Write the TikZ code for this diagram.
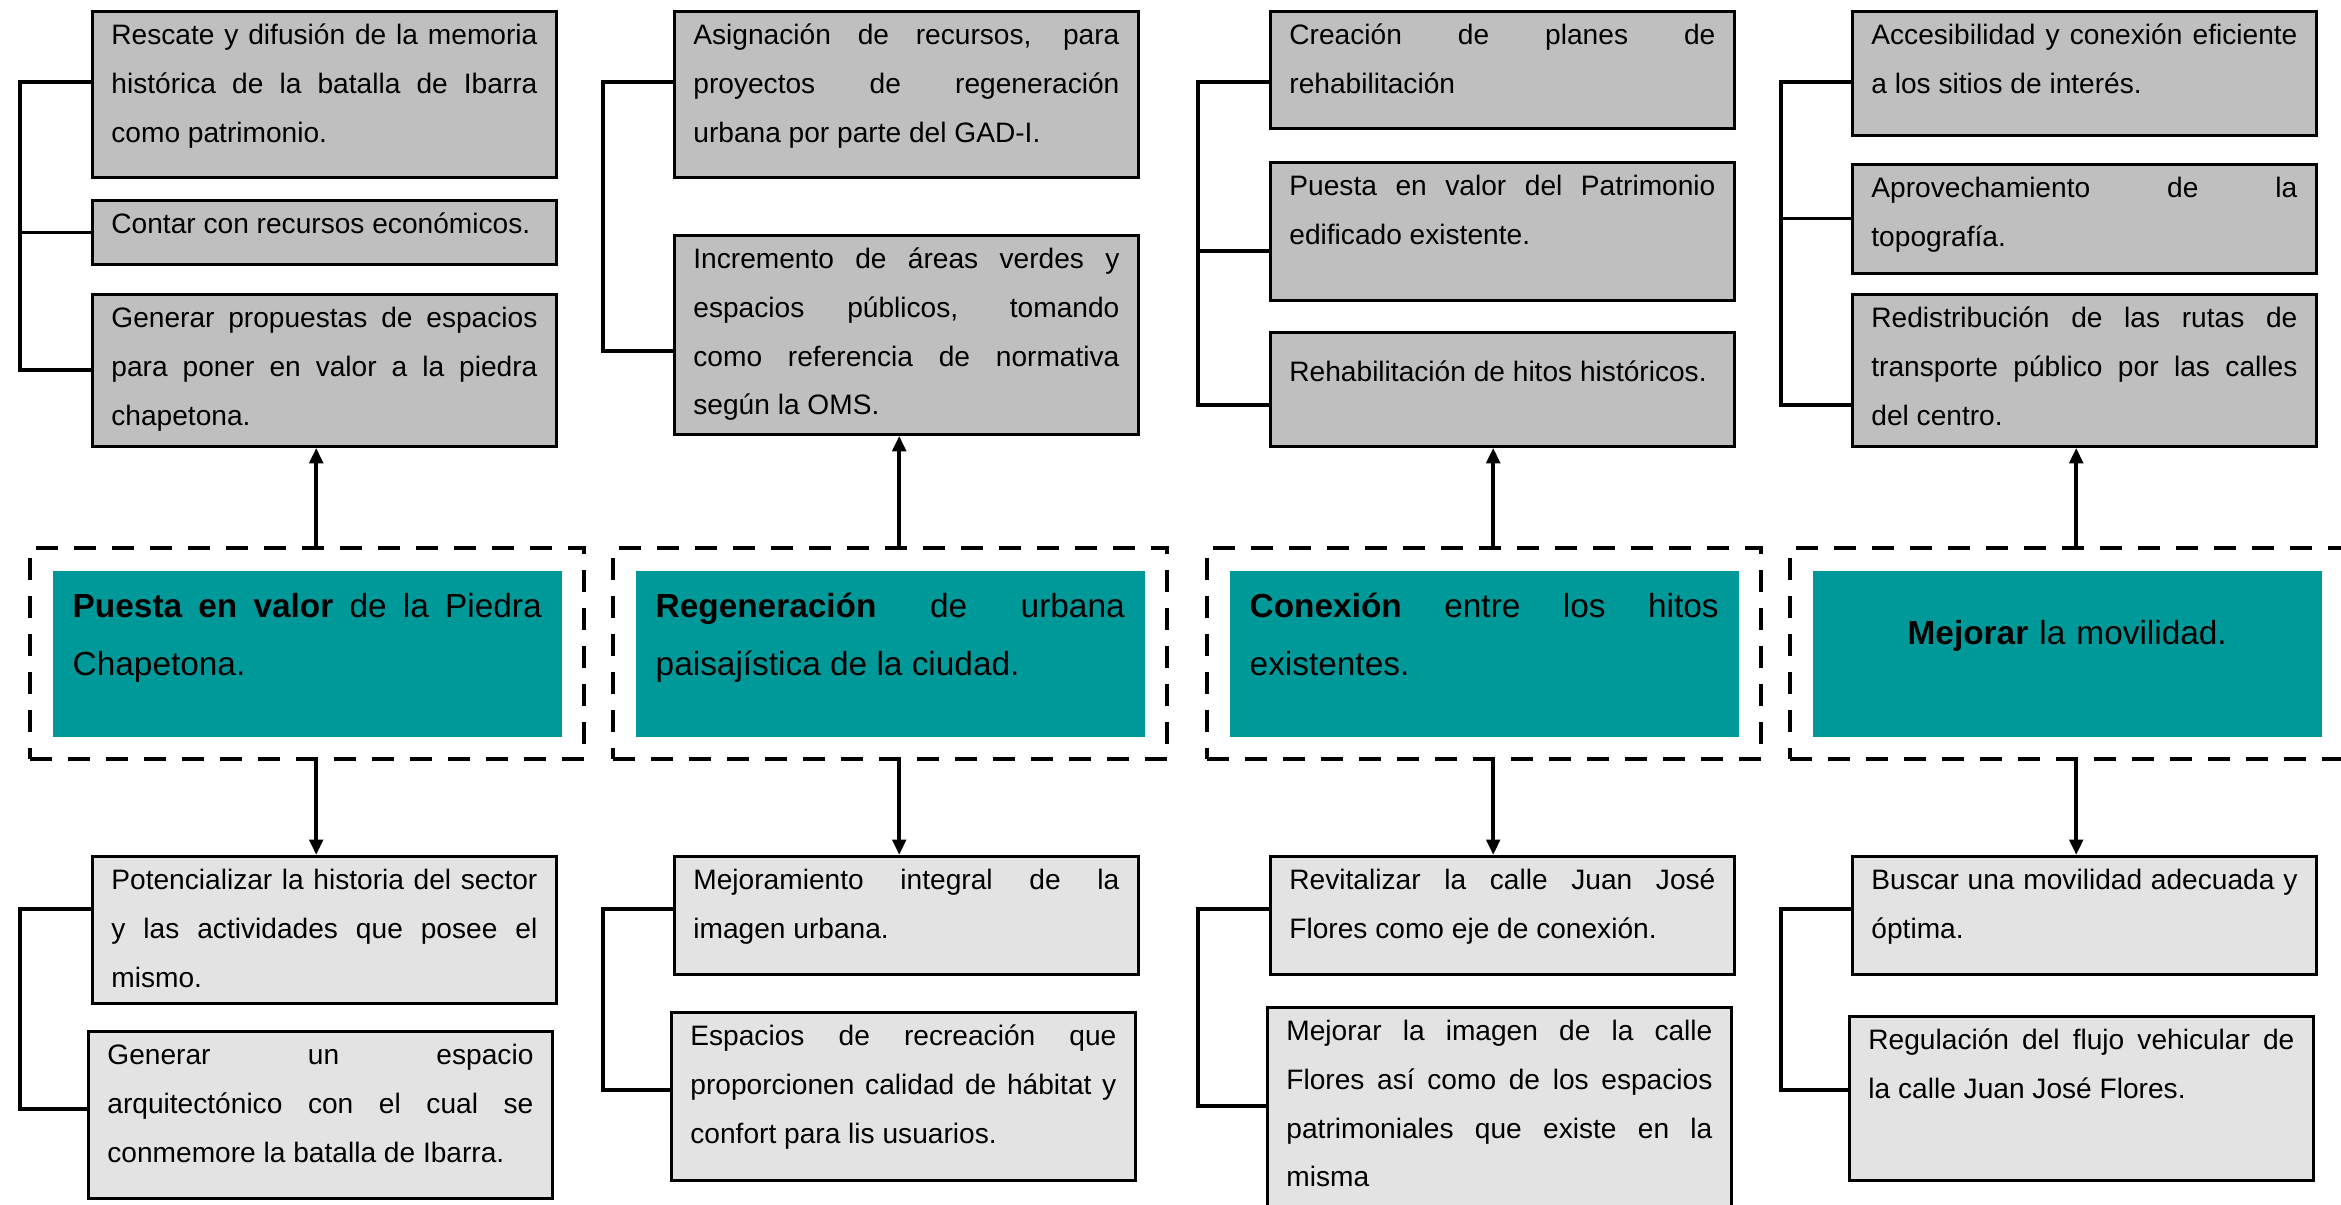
\documentclass[tikz,border=0pt]{standalone}
\usepackage{fontspec}
\setmainfont{Liberation Sans}
\usetikzlibrary{arrows.meta,fit}
\definecolor{tealbox}{RGB}{0,153,153}
\definecolor{topgray}{RGB}{191,191,191}
\definecolor{lowgray}{RGB}{227,227,227}
\tolerance=10000
\hbadness=10000
\hyphenpenalty=10000

\begin{document}
\begin{tikzpicture}[>={Triangle[width=3.8pt,length=4.4pt]}]
\tikzstyle{entry}=[draw, line width=0.8pt, rectangle, anchor=north west, align=justify, text width=4.26cm, inner xsep=0.19cm, inner ysep=0.08cm, text height=0.25cm, font=\fontsize{8}{13.9}\selectfont]
\tikzstyle{topbox}=[entry, fill=topgray]
\tikzstyle{lowbox}=[entry, fill=lowgray]
\tikzstyle{goalbox}=[fill=tealbox, rectangle, anchor=north west, align=justify, text width=4.69cm, inner xsep=0.20cm, inner ysep=0.17cm, text height=0.30cm, text depth=1.02cm, font=\fontsize{9.5}{16.5}\selectfont]
\tikzstyle{goalframe}=[draw, dash pattern=on 0.22cm off 0.16cm, line width=1.1pt, inner sep=0.22cm]
\tikzstyle{link}=[->, line width=1.1pt]
\tikzstyle{bracket}=[line width=0.9pt]
\useasboundingbox (0,0) rectangle (23.41,-12.05);

% objetivos
\node[goalbox] (g1) at (0.52,-5.70) {\textbf{Puesta en valor} de la Piedra\linebreak Chapetona.};
\node[goalbox] (g2) at (6.35,-5.70) {\textbf{Regeneración} de urbana\linebreak paisajística de la ciudad.};
\node[goalbox] (g3) at (12.29,-5.70) {\textbf{Conexión} entre los hitos\linebreak existentes.};
\node[goalbox, align=center, text height=0.57cm, text depth=0.75cm] (g4) at (18.12,-5.70) {\textbf{Mejorar} la movilidad.};
\node[goalframe, fit=(g1)] (f1) {};
\node[goalframe, fit=(g2)] (f2) {};
\node[goalframe, fit=(g3)] (f3) {};
\node[goalframe, fit=(g4)] (f4) {};

% estrategias superiores
\node[topbox, text depth=1.25cm] (t1a) at (0.91,-0.10) {Rescate y difusión de la memoria\linebreak histórica de la batalla de Ibarra\linebreak como patrimonio.};
\node[topbox, text depth=0.23cm] (t1b) at (0.91,-1.99) {Contar con recursos económicos.};
\node[topbox, text depth=1.11cm] (t1c) at (0.91,-2.93) {Generar propuestas de espacios\linebreak para poner en valor a la piedra\linebreak chapetona.};
\node[topbox, text depth=1.25cm] (t2a) at (6.73,-0.10) {Asignación de recursos, para\linebreak proyectos de regeneración\linebreak urbana por parte del GAD-I.};
\node[topbox, text depth=1.58cm] (t2b) at (6.73,-2.34) {Incremento de áreas verdes y\linebreak espacios públicos, tomando\linebreak como referencia de normativa\linebreak según la OMS.};
\node[topbox, text depth=0.76cm] (t3a) at (12.69,-0.10) {Creación de planes de\linebreak rehabilitación};
\node[topbox, text depth=0.97cm] (t3b) at (12.69,-1.61) {Puesta en valor del Patrimonio\linebreak edificado existente.};
\node[topbox, text height=0.41cm, text depth=0.57cm] (t3c) at (12.69,-3.31) {Rehabilitación de hitos históricos.};
\node[topbox, text depth=0.83cm] (t4a) at (18.51,-0.10) {Accesibilidad y conexión eficiente\linebreak a los sitios de interés.};
\node[topbox, text depth=0.68cm] (t4b) at (18.51,-1.63) {Aprovechamiento de la\linebreak topografía.};
\node[topbox, text depth=1.11cm] (t4c) at (18.51,-2.93) {Redistribución de las rutas de\linebreak transporte público por las calles\linebreak del centro.};

% estrategias inferiores
\node[lowbox, text depth=1.06cm] (b1a) at (0.91,-8.55) {Potencializar la historia del sector\linebreak y las actividades que posee el\linebreak mismo.};
\node[lowbox, text depth=1.26cm] (b1b) at (0.87,-10.30) {Generar un espacio\linebreak arquitectónico con el cual se\linebreak conmemore la batalla de Ibarra.};
\node[lowbox, text depth=0.77cm] (b2a) at (6.73,-8.55) {Mejoramiento integral de la\linebreak imagen urbana.};
\node[lowbox, text depth=1.27cm] (b2b) at (6.70,-10.11) {Espacios de recreación que\linebreak proporcionen calidad de hábitat y\linebreak confort para lis usuarios.};
\node[lowbox, text depth=0.77cm] (b3a) at (12.69,-8.55) {Revitalizar la calle Juan José\linebreak Flores como eje de conexión.};
\node[lowbox, text depth=1.80cm] (b3b) at (12.66,-10.06) {Mejorar la imagen de la calle\linebreak Flores así como de los espacios\linebreak patrimoniales que existe en la\linebreak misma};
\node[lowbox, text depth=0.77cm] (b4a) at (18.51,-8.55) {Buscar una movilidad adecuada y\linebreak óptima.};
\node[lowbox, text depth=1.23cm] (b4b) at (18.48,-10.15) {Regulación del flujo vehicular de\linebreak la calle Juan José Flores.};

% flechas
\foreach \f/\u/\d in {f1/t1c/b1a, f2/t2b/b2a, f3/t3c/b3a, f4/t4c/b4a}{
  \draw[link] ([xshift=0.09cm]\f.north) -- ([xshift=0.09cm]\f.north |- \u.south);
  \draw[link] ([xshift=0.09cm]\f.south) -- ([xshift=0.09cm]\f.south |- \d.north);
}

% llaves
\draw[bracket] (t1a.west |- 0,-0.82) -- ++(-0.71,0) |- (t1c.west |- 0,-3.70);
\draw[bracket] (t1b.west) -- ++(-0.71,0);
\draw[bracket] (t2a.west |- 0,-0.82) -- ++(-0.70,0) |- (t2b.west |- 0,-3.51);
\draw[bracket] (t3a.west |- 0,-0.82) -- ++(-0.71,0) |- (t3c.west |- 0,-4.05);
\draw[bracket] (t3b.west |- 0,-2.51) -- ++(-0.71,0);
\draw[bracket] (t4a.west |- 0,-0.82) -- ++(-0.70,0) |- (t4c.west |- 0,-4.05);
\draw[bracket] (t4b.west) -- ++(-0.70,0);
\draw[bracket] (b1a.west |- 0,-9.09) -- ++(-0.71,0) |- (b1b.west |- 0,-11.09);
\draw[bracket] (b2a.west |- 0,-9.09) -- ++(-0.70,0) |- (b2b.west |- 0,-10.90);
\draw[bracket] (b3a.west |- 0,-9.09) -- ++(-0.71,0) |- (b3b.west |- 0,-11.06);
\draw[bracket] (b4a.west |- 0,-9.09) -- ++(-0.70,0) |- (b4b.west |- 0,-10.90);
\end{tikzpicture}
\end{document}
